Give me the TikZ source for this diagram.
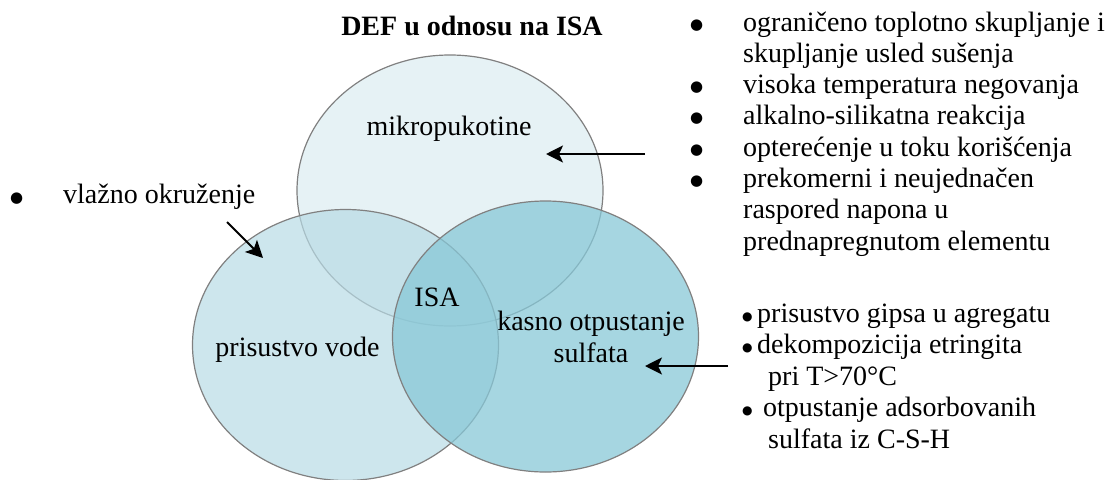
\documentclass[tikz,border=0pt]{standalone}
\usepackage{fontspec}
\setmainfont{Liberation Serif}
\newfontfamily\bulfont{DejaVu Sans}
\usetikzlibrary{shapes.geometric,arrows.meta}
\definecolor{edge}{RGB}{128,128,128}
\definecolor{ctop}{RGB}{230,242,245}
\definecolor{cleft}{RGB}{184,219,229}
\definecolor{cright}{RGB}{136,200,215}
\newcommand\bigbul{\raisebox{2pt}{\bulfont\fontsize{15pt}{15pt}\selectfont ●}}
\newcommand\lftbul{\raisebox{1pt}{\bulfont\fontsize{15pt}{15pt}\selectfont ●}}
\newcommand\smbul{\raisebox{2pt}{\bulfont\fontsize{12pt}{12pt}\selectfont ●}}
\begin{document}
\begin{tikzpicture}[x=1pt,y=-1pt,
 venn/.style={ellipse,draw=edge,line width=1.2pt,minimum width=306pt,minimum height=271pt,inner sep=0pt},
 txt/.style={inner sep=0pt,font=\fontsize{28pt}{30pt}\selectfont},
 lbl/.style={txt,anchor=base},
 item/.style={txt,anchor=base west},
 pointer/.style={line width=1.8pt,-{Stealth[length=17pt,width=17pt,inset=4pt]}}]
\useasboundingbox (0,0) rectangle (1113,479);
% circles
\node[venn,fill=ctop] (top) at (450,190.5) {};
\node[venn,fill=cleft,fill opacity=0.7] (left) at (345.5,345) {};
\node[venn,fill=cright,fill opacity=0.75] (right) at (545.5,336.5) {};
% labels
\node[lbl,font=\bfseries\fontsize{28pt}{30pt}\selectfont] (title) at (472,35) {DEF u odnosu na ISA};
\node[lbl] (mikro) at (449,135) {mikropukotine};
\node[lbl] (voda) at (297.5,356) {prisustvo vode};
\node[lbl] (isa) at (437,306) {ISA};
\node[lbl] (kasno1) at (591,330) {kasno otpustanje};
\node[lbl] (kasno2) at (591,362) {sulfata};
% left item
\node[item] (vl) at (10,203) {\makebox[53pt][l]{\lftbul}vlažno okruženje};
% right top list
\node[item] (r1) at (690,31) {\makebox[53pt][l]{\bigbul}ograničeno toplotno skupljanje i};
\node[item] (r2) at (743,62.3) {skupljanje usled sušenja};
\node[item] (r3) at (690,93.6) {\makebox[53pt][l]{\bigbul}visoka temperatura negovanja};
\node[item] (r4) at (690,124.9) {\makebox[53pt][l]{\bigbul}alkalno-silikatna reakcija};
\node[item] (r5) at (690,156.2) {\makebox[53pt][l]{\bigbul}opterećenje u toku korišćenja};
\node[item] (r6) at (690,187.5) {\makebox[53pt][l]{\bigbul}prekomerni i neujednačen};
\node[item] (r7) at (743,218.8) {raspored napona u};
\node[item] (r8) at (743,250) {prednapregnutom elementu};
% right bottom list
\node[item] (b1) at (742,322) {\makebox[15pt][l]{\smbul}prisustvo gipsa u agregatu};
\node[item] (b2) at (742,353.5) {\makebox[15pt][l]{\smbul}dekompozicija etringita};
\node[item] (b3) at (768,385) {pri T>70°C};
\node[item] (b4) at (742,416.5) {\makebox[21pt][l]{\smbul}otpustanje adsorbovanih};
\node[item] (b5) at (768,448) {sulfata iz C-S-H};
% arrows
\coordinate (m1) at (645,154); \coordinate (m2) at (546,154);
\coordinate (s1) at (728,366); \coordinate (s2) at (645,366);
\coordinate (v1) at (227,222); \coordinate (v2) at (263,258);
\draw[pointer] (m1) -- (m2);
\draw[pointer] (s1) -- (s2);
\draw[pointer] (v1) -- (v2);
\end{tikzpicture}
\end{document}
